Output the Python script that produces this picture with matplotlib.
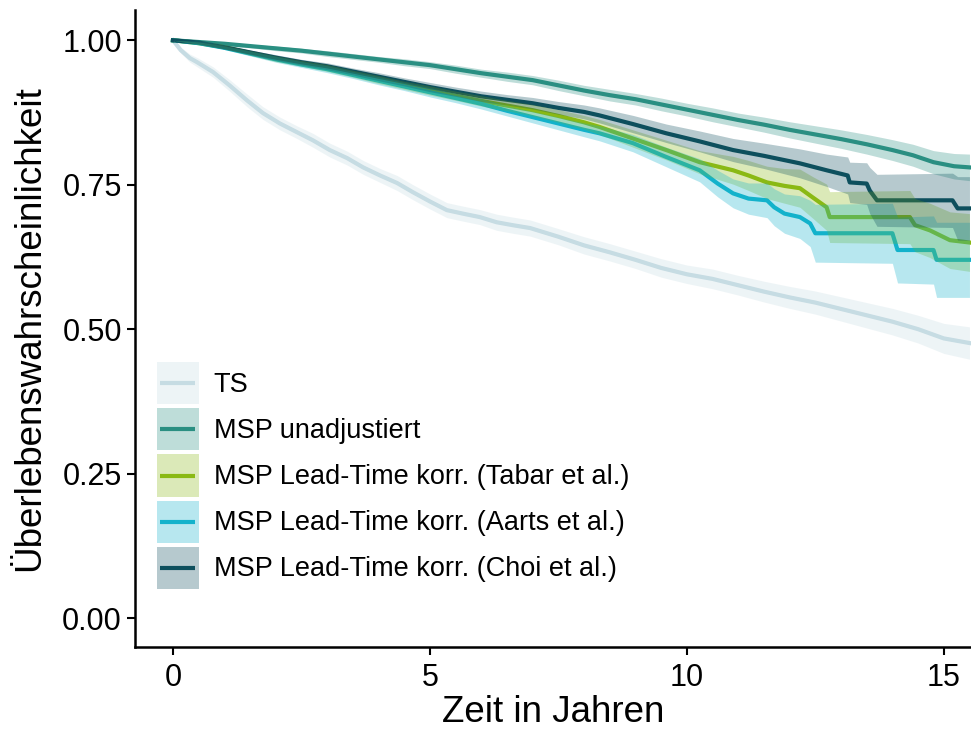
import matplotlib
matplotlib.use('Agg')
import matplotlib.pyplot as plt
from matplotlib.patches import Rectangle
from matplotlib.lines import Line2D
from matplotlib.legend_handler import HandlerBase

# ── Daten ─────────────────────────────────────────────
ts_t = [0, 0.15, 0.33, 0.47, 0.78, 1.1, 1.44, 1.75, 2.08, 2.41, 2.72, 3.05, 3.39, 3.7, 4.03, 4.36,
        4.67, 5.0, 5.33, 5.64, 5.97, 6.3, 6.61, 6.95, 7.5, 8.0, 8.5, 9.0, 9.5, 10.0, 10.5, 11.0,
        11.5, 12.0, 12.5, 13.0, 13.5, 14.0, 14.5, 15.0, 15.5]
ts_s = [1.0, 0.983, 0.969, 0.962, 0.945, 0.922, 0.896, 0.874, 0.856, 0.841, 0.827, 0.810, 0.796,
        0.780, 0.766, 0.753, 0.737, 0.721, 0.706, 0.700, 0.694, 0.685, 0.680, 0.675, 0.660, 0.645,
        0.633, 0.620, 0.606, 0.595, 0.587, 0.576, 0.565, 0.555, 0.546, 0.535, 0.524, 0.513, 0.500,
        0.484, 0.476]
ts_lo = [1.0, 0.978, 0.962, 0.954, 0.936, 0.912, 0.885, 0.863, 0.845, 0.830, 0.815, 0.798, 0.784,
         0.768, 0.754, 0.740, 0.724, 0.708, 0.693, 0.687, 0.681, 0.671, 0.666, 0.661, 0.646, 0.630,
         0.618, 0.605, 0.590, 0.579, 0.570, 0.559, 0.547, 0.536, 0.526, 0.514, 0.502, 0.490, 0.476,
         0.458, 0.448]
ts_hi = [1.0, 0.988, 0.976, 0.970, 0.954, 0.932, 0.907, 0.885, 0.867, 0.852, 0.839, 0.822, 0.808,
         0.792, 0.778, 0.766, 0.750, 0.734, 0.719, 0.713, 0.707, 0.699, 0.694, 0.689, 0.674, 0.660,
         0.648, 0.635, 0.622, 0.611, 0.604, 0.593, 0.583, 0.574, 0.566, 0.556, 0.546, 0.536, 0.524,
         0.510, 0.504]

unadj_t = [0, 0.5, 1, 1.5, 2, 2.5, 3, 3.5, 4, 4.5, 5, 5.5, 6, 6.5, 7, 7.5, 8, 8.5, 9, 9.5, 10,
           10.5, 11, 11.5, 12, 12.5, 13, 13.5, 14, 14.4, 14.8, 15.2, 15.5]
unadj_s = [1.0, 0.997, 0.994, 0.990, 0.986, 0.982, 0.977, 0.972, 0.967, 0.962, 0.957, 0.950, 0.943,
           0.937, 0.931, 0.922, 0.913, 0.905, 0.898, 0.889, 0.880, 0.871, 0.862, 0.854, 0.845, 0.837,
           0.829, 0.820, 0.810, 0.801, 0.789, 0.782, 0.780]
unadj_lo = [1.0, 0.995, 0.991, 0.987, 0.982, 0.978, 0.972, 0.967, 0.962, 0.956, 0.951, 0.943, 0.936,
            0.929, 0.923, 0.913, 0.904, 0.895, 0.888, 0.878, 0.869, 0.859, 0.850, 0.841, 0.831,
            0.822, 0.813, 0.803, 0.792, 0.782, 0.769, 0.760, 0.757]
unadj_hi = [1.0, 0.999, 0.997, 0.993, 0.990, 0.986, 0.982, 0.977, 0.972, 0.968, 0.963, 0.957, 0.950,
            0.945, 0.939, 0.931, 0.922, 0.915, 0.908, 0.900, 0.891, 0.883, 0.874, 0.867, 0.859,
            0.852, 0.845, 0.837, 0.828, 0.820, 0.809, 0.804, 0.803]

tabar_t = [0, 0.5, 1, 1.5, 2, 2.5, 3, 3.5, 4, 4.5, 5, 5.5, 6, 6.5, 7, 7.5, 8, 8.3, 8.95, 9.6, 10.25,
           10.9, 11.2, 11.56, 11.9, 12.2, 12.45, 12.72, 12.78, 14.34, 14.44, 14.73, 15.12, 15.5]
tabar_s = [1.0, 0.995, 0.988, 0.978, 0.968, 0.960, 0.952, 0.942, 0.932, 0.922, 0.913, 0.904, 0.895,
           0.887, 0.879, 0.869, 0.858, 0.850, 0.830, 0.810, 0.789, 0.775, 0.766, 0.754, 0.748, 0.744,
           0.728, 0.711, 0.694, 0.694, 0.680, 0.671, 0.654, 0.650]
tabar_lo = [1.0, 0.993, 0.985, 0.974, 0.963, 0.955, 0.946, 0.936, 0.925, 0.915, 0.905, 0.896, 0.886,
            0.878, 0.869, 0.858, 0.846, 0.837, 0.815, 0.793, 0.769, 0.751, 0.740, 0.726, 0.718,
            0.711, 0.692, 0.671, 0.650, 0.648, 0.634, 0.624, 0.605, 0.600]
tabar_hi = [1.0, 0.997, 0.991, 0.982, 0.973, 0.965, 0.958, 0.948, 0.939, 0.929, 0.921, 0.912, 0.904,
            0.896, 0.889, 0.880, 0.870, 0.863, 0.845, 0.827, 0.809, 0.799, 0.792, 0.782, 0.778,
            0.777, 0.764, 0.751, 0.738, 0.740, 0.726, 0.718, 0.703, 0.700]

aarts_t = [0, 0.5, 1, 1.5, 2, 2.5, 3, 3.5, 4, 4.5, 5, 5.5, 6, 6.5, 7, 7.5, 8, 8.3, 8.95, 9.6, 10.25,
           10.6, 10.9, 11.2, 11.56, 11.7, 11.9, 12.2, 12.4, 12.5, 14.0, 14.1, 14.8, 14.86, 15.5]
aarts_s = [1.0, 0.995, 0.987, 0.977, 0.967, 0.958, 0.950, 0.940, 0.930, 0.920, 0.910, 0.900, 0.890,
           0.878, 0.867, 0.856, 0.845, 0.839, 0.822, 0.798, 0.775, 0.752, 0.735, 0.726, 0.723, 0.711,
           0.700, 0.694, 0.683, 0.666, 0.666, 0.637, 0.637, 0.620, 0.620]
aarts_lo = [1.0, 0.993, 0.984, 0.973, 0.962, 0.953, 0.944, 0.934, 0.923, 0.913, 0.902, 0.892, 0.881,
            0.869, 0.857, 0.845, 0.833, 0.826, 0.807, 0.781, 0.755, 0.729, 0.710, 0.699, 0.693,
            0.679, 0.666, 0.657, 0.643, 0.616, 0.614, 0.580, 0.578, 0.555, 0.555]
aarts_hi = [1.0, 0.997, 0.990, 0.981, 0.972, 0.963, 0.956, 0.946, 0.937, 0.927, 0.918, 0.908, 0.899,
            0.887, 0.877, 0.867, 0.857, 0.852, 0.837, 0.815, 0.795, 0.775, 0.760, 0.753, 0.753,
            0.743, 0.734, 0.731, 0.723, 0.716, 0.718, 0.694, 0.696, 0.685, 0.685]

choi_t = [0, 0.5, 1, 1.5, 2, 2.5, 3, 3.5, 4, 4.5, 5, 5.5, 6, 6.5, 7, 7.5, 8, 8.3, 8.95, 9.6, 10.25,
          10.9, 11.5, 12.2, 12.72, 13.13, 13.17, 13.5, 13.56, 13.7, 15.17, 15.27, 15.5]
choi_s = [1.0, 0.996, 0.988, 0.979, 0.970, 0.962, 0.955, 0.946, 0.937, 0.928, 0.919, 0.911, 0.903,
          0.897, 0.891, 0.883, 0.876, 0.870, 0.855, 0.839, 0.825, 0.810, 0.800, 0.787, 0.775, 0.766,
          0.754, 0.752, 0.740, 0.723, 0.723, 0.709, 0.709]
choi_lo = [1.0, 0.994, 0.985, 0.975, 0.965, 0.957, 0.949, 0.940, 0.930, 0.921, 0.911, 0.903, 0.894,
           0.888, 0.881, 0.872, 0.864, 0.857, 0.840, 0.823, 0.807, 0.790, 0.778, 0.762, 0.747, 0.734,
           0.719, 0.716, 0.700, 0.678, 0.676, 0.654, 0.654]
choi_hi = [1.0, 0.998, 0.991, 0.983, 0.975, 0.967, 0.961, 0.952, 0.944, 0.935, 0.927, 0.919, 0.912,
           0.906, 0.901, 0.894, 0.888, 0.883, 0.870, 0.855, 0.843, 0.830, 0.822, 0.812, 0.803, 0.798,
           0.789, 0.788, 0.780, 0.768, 0.770, 0.764, 0.764]

labels = ['TS', 'MSP unadjustiert', 'MSP Lead-Time korr. (Tabar et al.)',
          'MSP Lead-Time korr. (Aarts et al.)', 'MSP Lead-Time korr. (Choi et al.)']
colors = ['#c6dce3', '#2a8f82', '#8ab914', '#13b2cb', '#0d4f5d']

x_ticks = [0, 5, 10, 15]
y_ticks = [0.0, 0.25, 0.5, 0.75, 1.0]

LW = 3.0


class KeyHandler(HandlerBase):
    """Quadratischer Legendenschlüssel: Bandfarbe als Fläche, Linie mittig."""
    def create_artists(self, legend, orig_handle, xdescent, ydescent, width, height,
                       fontsize, trans):
        c = orig_handle.get_color()
        rect = Rectangle((-xdescent, -ydescent), width, height, facecolor=c, alpha=0.3,
                         edgecolor='none', transform=trans)
        ym = -ydescent + height / 2
        line = Line2D([-xdescent + 0.08 * width, -xdescent + 0.92 * width], [ym, ym],
                      color=c, linewidth=LW, solid_capstyle='butt', transform=trans)
        return [rect, line]


# ── Stil ──────────────────────────────────────────────
plt.rcParams['font.family'] = ['Liberation Sans', 'DejaVu Sans']

fig = plt.figure(figsize=(9.71, 7.31), dpi=100)
ax = fig.add_axes([0.139, 0.115, 0.861, 0.871])

series = [
    (ts_t, ts_s, ts_lo, ts_hi),
    (unadj_t, unadj_s, unadj_lo, unadj_hi),
    (tabar_t, tabar_s, tabar_lo, tabar_hi),
    (aarts_t, aarts_s, aarts_lo, aarts_hi),
    (choi_t, choi_s, choi_lo, choi_hi),
]

# Linien zuerst, Konfidenzbänder darüber (wie ggsurvplot)
handles = []
for (t, s, lo, hi), c in zip(series, colors):
    ln, = ax.plot(t, s, color=c, linewidth=LW, zorder=2)
    handles.append(ln)
for (t, s, lo, hi), c in zip(series, colors):
    ax.fill_between(t, lo, hi, color=c, alpha=0.3, linewidth=0, zorder=3)

ax.set_xlim(-0.74, 15.53)
ax.set_ylim(-0.05, 1.052)
ax.set_xticks(x_ticks)
ax.set_xticklabels([str(v) for v in x_ticks])
ax.set_yticks(y_ticks)
ax.set_yticklabels(['%.2f' % v for v in y_ticks])

for side in ['top', 'right']:
    ax.spines[side].set_visible(False)
for side in ['left', 'bottom']:
    ax.spines[side].set_linewidth(1.8)
ax.tick_params(axis='both', labelsize=22, width=1.5, length=5.5, colors='black')
ax.tick_params(axis='x', pad=6)
ax.tick_params(axis='y', pad=4)

ax.set_xlabel('Zeit in Jahren', fontsize=26.5, labelpad=1.5)
ax.set_ylabel('Überlebenswahrscheinlichkeit', fontsize=26.5, labelpad=11)

ax.legend(handles, labels, handler_map={Line2D: KeyHandler()},
          loc='upper left', bbox_to_anchor=(0.026, 0.447),
          frameon=False, fontsize=19.5, handlelength=1.55, handleheight=2.01,
          labelspacing=0.15, handletextpad=0.55, borderpad=0, borderaxespad=0)

fig.savefig('out.png', dpi=100, facecolor='white')
